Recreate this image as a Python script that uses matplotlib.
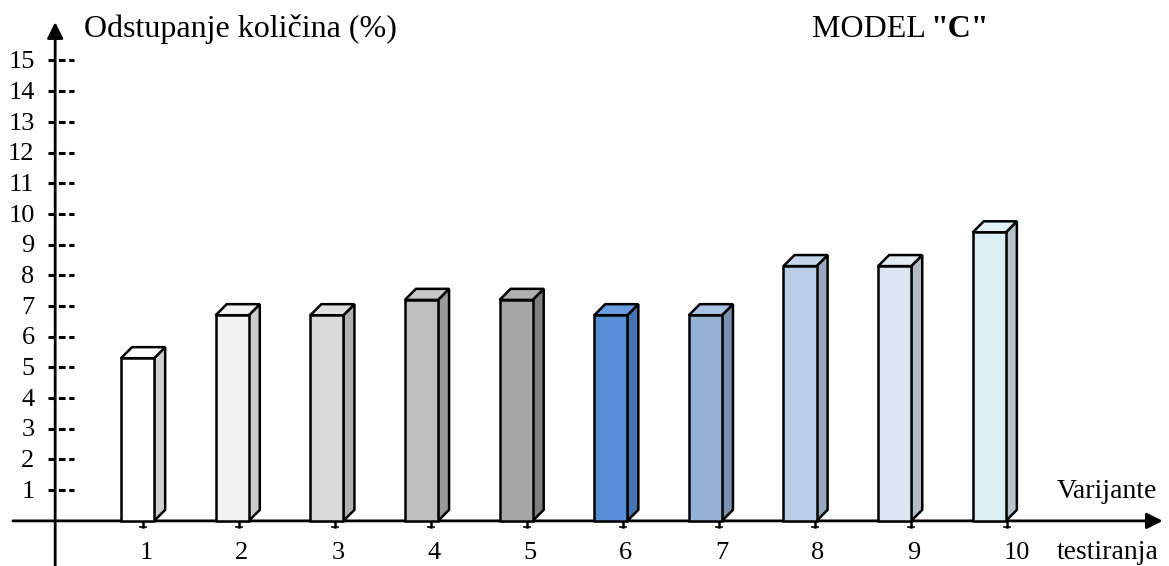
import matplotlib
matplotlib.use("Agg")
import matplotlib.pyplot as plt
from matplotlib.patches import Polygon

plt.rcParams['font.family'] = ['Liberation Serif', 'DejaVu Serif']

# data
variants = [1, 2, 3, 4, 5, 6, 7, 8, 9, 10]
deviation = [5.3, 6.7, 6.7, 7.2, 7.2, 6.7, 6.7, 8.3, 8.3, 9.4]
front_colors = ['#ffffff', '#f2f2f2', '#d9d9d9', '#bfbfbf', '#a6a6a6',
                '#558ed5', '#95b3d7', '#b9cde5', '#dce6f2', '#dbeef4']
side_colors = ['#d0d0d0', '#cccccc', '#b2b2b2', '#999999', '#808080',
               '#4674b0', '#7b92ae', '#97a8bc', '#b4bcc6', '#b3c3c8']
top_colors = ['#ffffff', '#f2f2f2', '#e0e0e0', '#c8c8c8', '#b0b0b0',
              '#6a9de0', '#a9c3e3', '#c5d6ea', '#e2eaf4', '#e2f1f6']
y_ticks = list(range(1, 16))

fig = plt.figure(figsize=(11.69, 5.66), dpi=100)
ax = fig.add_axes([0, 0, 1, 1])
ax.set_xlim(-0.49, 11.69)
ax.set_ylim(-1.47, 16.97)
ax.axis('off')

# bar geometry: bars sit a little left of the ticks and drift slightly
w = 0.345
dx, dy = 0.115, 0.36
for x, v, fc, sc, tc in zip(variants, deviation, front_colors, side_colors, top_colors):
    x0 = 0.771 + (x - 1) * 0.986
    x1 = x0 + w
    front = [(x0, 0), (x1, 0), (x1, v), (x0, v)]
    side = [(x1, 0), (x1 + dx, dy), (x1 + dx, v + dy), (x1, v)]
    top = [(x0, v), (x1, v), (x1 + dx, v + dy), (x0 + dx, v + dy)]
    for pts, c in ((side, sc), (top, tc), (front, fc)):
        ax.add_patch(Polygon(pts, closed=True, facecolor=c, edgecolor='black',
                             lw=1.8, joinstyle='miter', zorder=3))

# axes with arrows
yax = 0.085
ax.annotate('', xy=(11.625, 0), xytext=(-0.355, 0),
            arrowprops=dict(arrowstyle='-|>', mutation_scale=24, lw=2, color='black',
                            shrinkA=0, shrinkB=0), zorder=2)
ax.annotate('', xy=(yax, 16.25), xytext=(yax, -1.47),
            arrowprops=dict(arrowstyle='-|>', mutation_scale=24, lw=2, color='black',
                            shrinkA=0, shrinkB=0), zorder=2)

# y ticks as short dashed marks
for t in y_ticks:
    ax.plot([0.01, 0.285], [t, t], color='black', lw=2.2, ls=(0, (2.2, 1.2)), zorder=2)
    ax.text(-0.13, t - 0.25, str(t), ha='right', va='baseline', fontsize=19)

# x ticks
for x in variants:
    ax.plot([x, x], [0, -0.2], color='black', lw=1.8, zorder=2)
    ax.plot([x - 0.03, x + 0.03], [-0.2, -0.2], color='black', lw=1.2, zorder=2)
    off = 0.1 if x >= 10 else 0.03
    ax.text(x + off, -1.24, str(x), ha='center', va='baseline', fontsize=19)

ax.text(0.39, 15.77, 'Odstupanje količina (%)', ha='left', va='baseline', fontsize=23)
ax.text(7.97, 15.77, 'MODEL ', ha='left', va='baseline', fontsize=23)
ax.text(9.2, 15.77, '"C"', ha='left', va='baseline', fontsize=23, fontweight='bold')
ax.text(10.52, 0.75, 'Varijante', ha='left', va='baseline', fontsize=20)
ax.text(10.52, -1.24, 'testiranja', ha='left', va='baseline', fontsize=20)

fig.savefig('out.png', dpi=100)
